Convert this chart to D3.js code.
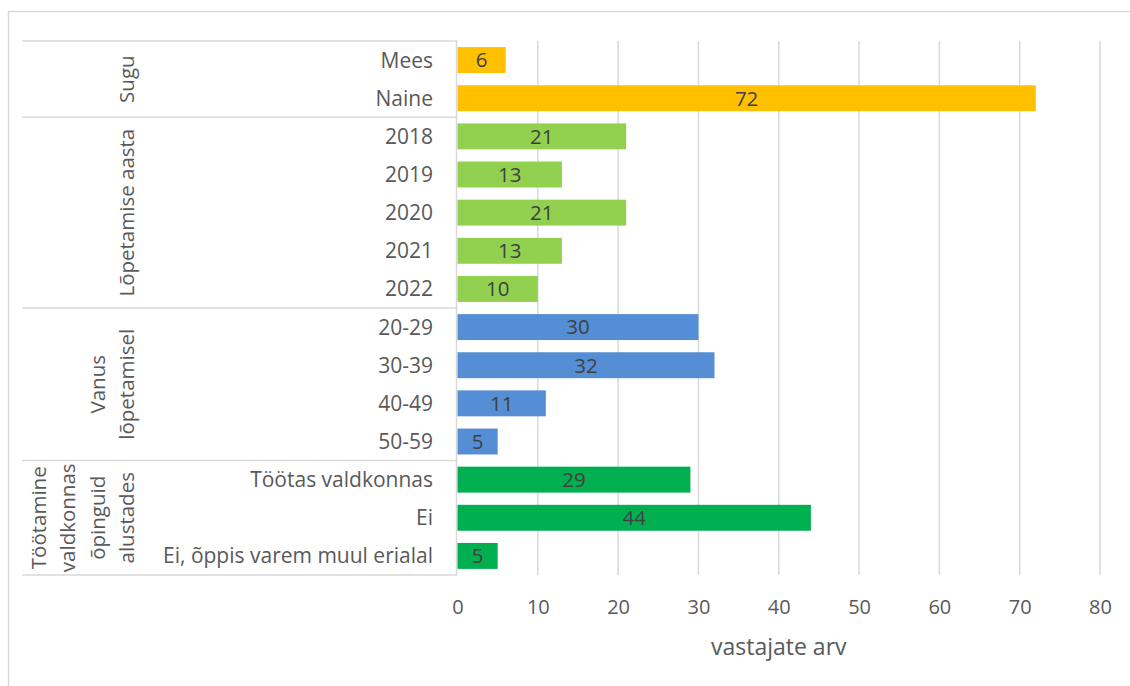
<!DOCTYPE html>
<html>
<head>
<meta charset="utf-8">
<script src="https://cdn.jsdelivr.net/npm/d3@7"></script>
<style>
  body { margin: 0; background: #fff; }
  text { font-family: "Open Sans", sans-serif; }
</style>
</head>
<body>
<div class="chart"></div>
<script>
// data
const categories = ["Mees", "Naine", "2018", "2019", "2020", "2021", "2022",
    "20-29", "30-39", "40-49", "50-59",
    "Töötas valdkonnas", "Ei", "Ei, õppis varem muul erialal"];
const values = [6, 72, 21, 13, 21, 13, 10, 30, 32, 11, 5, 29, 44, 5];
const groupIndex = [0, 0, 1, 1, 1, 1, 1, 2, 2, 2, 2, 3, 3, 3];
const groupNames = [["Sugu"], ["Lõpetamise aasta"], ["Vanus", "lõpetamisel"],
    ["Töötamine", "valdkonnas", "õpinguid", "alustades"]];
const groupColors = ["#FFC000", "#92D050", "#558ED5", "#00B050"];
const xTicks = [0, 10, 20, 30, 40, 50, 60, 70, 80];
const xTitle = "vastajate arv";

const width = 1130, height = 686;
const plotLeft = 457.5, plotRight = 1100, plotTop = 41, plotBottom = 575;
const gridColor = "#d9d9d9";

const svg = d3.select(".chart").append("svg")
    .attr("width", width)
    .attr("height", height);

// outer chart border (continues past right/bottom edge)
svg.append("path")
    .attr("d", `M8.5,${height} L8.5,11.5 L${width},11.5`)
    .style("fill", "none")
    .style("stroke", gridColor)
    .style("stroke-width", 1.5);

const xScale = d3.scaleLinear().domain([0, 80]).range([plotLeft, plotRight]);
const yScale = d3.scaleBand()
    .domain(d3.range(categories.length))
    .range([plotTop, plotBottom])
    .paddingInner(0.32)
    .paddingOuter(0.16);

// vertical grid lines
svg.append("g")
    .selectAll("line")
    .data(xTicks.filter(t => t > 0))
    .enter()
    .append("line")
    .attr("x1", d => xScale(d))
    .attr("x2", d => xScale(d))
    .attr("y1", plotTop)
    .attr("y2", plotBottom)
    .style("stroke", gridColor)
    .style("stroke-width", 1.5);

// x axis labels
const xAxis = d3.axisBottom(xScale).tickValues(xTicks).tickSize(0).tickPadding(0);
const gx = svg.append("g")
    .attr("transform", `translate(0,${plotBottom + 25})`)
    .call(xAxis);
gx.select(".domain").remove();
gx.selectAll("text")
    .style("font-family", "Open Sans")
    .style("font-size", "20px")
    .style("fill", "#595959");

svg.append("text")
    .attr("x", (plotLeft + plotRight) / 2)
    .attr("y", 655)
    .attr("text-anchor", "middle")
    .style("font-size", "23px")
    .style("fill", "#595959")
    .text(xTitle);

// group boundaries on the category axis
const groupStarts = [];
groupIndex.forEach((g, i) => { if (i === 0 || groupIndex[i - 1] !== g) groupStarts.push(i); });
const bandTop = i => plotTop + i * (plotBottom - plotTop) / categories.length;
const sepY = groupStarts.map(i => bandTop(i)).concat([plotBottom]);

svg.append("g")
    .selectAll("line")
    .data(sepY)
    .enter()
    .append("line")
    .attr("x1", 22)
    .attr("x2", plotLeft)
    .attr("y1", d => d)
    .attr("y2", d => d)
    .style("stroke", gridColor)
    .style("stroke-width", 1.5);

// category axis line
svg.append("line")
    .attr("x1", plotLeft - 1)
    .attr("x2", plotLeft - 1)
    .attr("y1", plotTop)
    .attr("y2", plotBottom)
    .style("stroke", gridColor)
    .style("stroke-width", 1.5);

// bars
svg.append("g")
    .selectAll("rect")
    .data(values)
    .enter()
    .append("rect")
    .attr("x", xScale(0))
    .attr("y", (d, i) => yScale(i))
    .attr("width", d => xScale(d) - xScale(0))
    .attr("height", yScale.bandwidth())
    .style("fill", (d, i) => groupColors[groupIndex[i]]);

// value labels
svg.append("g")
    .selectAll("text")
    .data(values)
    .enter()
    .append("text")
    .attr("x", d => (xScale(d) + xScale(0)) / 2)
    .attr("y", (d, i) => yScale(i) + yScale.bandwidth() / 2)
    .attr("dy", "0.36em")
    .attr("text-anchor", "middle")
    .style("font-size", "20.5px")
    .style("fill", "#404040")
    .text(d => d);

// category labels
svg.append("g")
    .selectAll("text")
    .data(categories)
    .enter()
    .append("text")
    .attr("x", 433)
    .attr("y", (d, i) => yScale(i) + yScale.bandwidth() / 2)
    .attr("dy", "0.36em")
    .attr("text-anchor", "end")
    .style("font-size", "21px")
    .style("fill", "#595959")
    .text(d => d);

// group labels (rotated)
groupNames.forEach((lines, g) => {
    const y0 = sepY[g], y1 = sepY[g + 1];
    const t = svg.append("text")
        .attr("transform", `translate(0,${(y0 + y1) / 2}) rotate(-90)`)
        .attr("text-anchor", "middle")
        .style("font-size", "20.5px")
        .style("fill", "#595959");
    lines.forEach((line, k) => {
        t.append("tspan")
            .attr("x", 0)
            .attr("y", 127 - (lines.length - 1 - k) * 29.5)
            .attr("dy", "0.36em")
            .text(line);
    });
});
</script>
</body>
</html>
